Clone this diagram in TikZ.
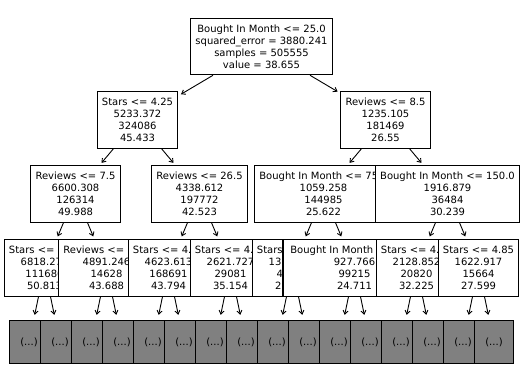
\documentclass[tikz,border=0pt]{standalone}
\usepackage{fontspec}
\setmainfont{DejaVu Sans}
\definecolor{cutgray}{HTML}{808080}
\usepackage{tikz}
\usetikzlibrary{arrows.meta}
\tikzset{
	splitbox/.style={draw=black, fill=white, line width=1.1pt, inner xsep=4.8pt, inner ysep=0pt, minimum height=56.5pt, align=center, font=\fontsize{10}{12}\selectfont}
}
\tikzset{
	cutbox/.style={draw=black, fill=cutgray, line width=1.1pt, minimum width=39pt, minimum height=43.5pt, inner sep=0pt, font=\fontsize{10}{12}\selectfont}
}
\tikzset{
	treearrow/.style={-{Straight Barb[length=3.5pt,width=5pt]}, line width=0.9pt, shorten >=3pt}
}
\tikzset{
	leafarrow/.style={treearrow, shorten >=5pt}
}

\begin{document}
\begin{tikzpicture}[x=1pt, y=-1pt]
\useasboundingbox (0,0) rectangle (523,389);

% root and left half
\node[splitbox] (sA) at (261.5,46.5) {Bought In Month <= 25.0\\squared\_error = 3880.241\\samples = 505555\\value = 38.655};
\node[splitbox] (sB) at (137.5,120) {Stars <= 4.25\\5233.372\\324086\\45.433};
\draw[treearrow] (sA) -- (sB);
\node[splitbox] (sD) at (75.5,194) {Reviews <= 7.5\\6600.308\\126314\\49.988};
\draw[treearrow] (sB) -- (sD);
\node[splitbox] (sH) at (44.5,268) {Stars <= 4.45\\6818.275\\111686\\50.813};
\draw[treearrow] (sD) -- (sH);
\node[cutbox] (lA) at (29,342) {(...)};
\draw[leafarrow] (sH) -- (lA);
\node[cutbox] (lB) at (60,342) {(...)};
\draw[leafarrow] (sH) -- (lB);
\node[splitbox] (sI) at (106.5,268) {Reviews <= 19.5\\4891.246\\14628\\43.688};
\draw[treearrow] (sD) -- (sI);
\node[cutbox] (lC) at (91,342) {(...)};
\draw[leafarrow] (sI) -- (lC);
\node[cutbox] (lD) at (122,342) {(...)};
\draw[leafarrow] (sI) -- (lD);
\node[splitbox] (sE) at (199.5,194) {Reviews <= 26.5\\4338.612\\197772\\42.523};
\draw[treearrow] (sB) -- (sE);
\node[splitbox] (sJ) at (168.5,268) {Stars <= 4.35\\4623.613\\168691\\43.794};
\draw[treearrow] (sE) -- (sJ);
\node[cutbox] (lE) at (153,342) {(...)};
\draw[leafarrow] (sJ) -- (lE);
\node[cutbox] (lF) at (184,342) {(...)};
\draw[leafarrow] (sJ) -- (lF);
\node[splitbox] (sK) at (230.5,268) {Stars <= 4.45\\2621.727\\29081\\35.154};
\draw[treearrow] (sE) -- (sK);
\node[cutbox] (lG) at (215,342) {(...)};
\draw[leafarrow] (sK) -- (lG);
\node[cutbox] (lH) at (246,342) {(...)};
\draw[leafarrow] (sK) -- (lH);

% right half
\node[splitbox] (sC) at (385.5,120) {Reviews <= 8.5\\1235.105\\181469\\26.55};
\draw[treearrow] (sA) -- (sC);
\node[splitbox] (sF) at (323.5,194) {Bought In Month <= 75.0\\1059.258\\144985\\25.622};
\draw[treearrow] (sC) -- (sF);
\node[splitbox] (sL) at (292.5,268) {Stars <= 4.15\\1317.435\\45770\\27.411};
\draw[treearrow] (sF) -- (sL);
\node[cutbox] (lI) at (277,342) {(...)};
\draw[leafarrow] (sL) -- (lI);
\node[cutbox] (lJ) at (308,342) {(...)};
\draw[leafarrow] (sL) -- (lJ);
\node[splitbox, minimum width=143pt] (sM) at (354.5,268) {Bought In Month <= 50.0\\927.766\\99215\\24.711};
\draw[treearrow] (sF) -- (sM);
\node[cutbox] (lK) at (339,342) {(...)};
\draw[leafarrow] (sM) -- (lK);
\node[cutbox] (lL) at (370,342) {(...)};
\draw[leafarrow] (sM) -- (lL);
\node[splitbox] (sG) at (447.5,194) {Bought In Month <= 150.0\\1916.879\\36484\\30.239};
\draw[treearrow] (sC) -- (sG);
\node[splitbox] (sN) at (416.5,268) {Stars <= 4.45\\2128.852\\20820\\32.225};
\draw[treearrow] (sG) -- (sN);
\node[cutbox] (lM) at (401,342) {(...)};
\draw[leafarrow] (sN) -- (lM);
\node[cutbox] (lN) at (432,342) {(...)};
\draw[leafarrow] (sN) -- (lN);
\node[splitbox] (sO) at (478.5,268) {Stars <= 4.85\\1622.917\\15664\\27.599};
\draw[treearrow] (sG) -- (sO);
\node[cutbox] (lO) at (463,342) {(...)};
\draw[leafarrow] (sO) -- (lO);
\node[cutbox] (lP) at (494,342) {(...)};
\draw[leafarrow] (sO) -- (lP);

\end{tikzpicture}
\end{document}
